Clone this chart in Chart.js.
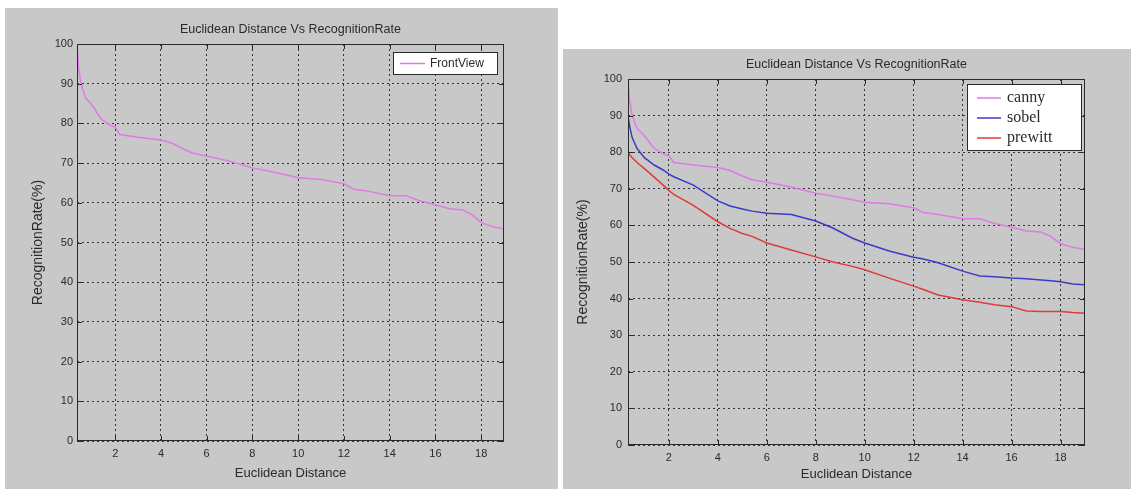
<!DOCTYPE html>
<html>
<head>
<meta charset="utf-8">
<title>Euclidean Distance Vs RecognitionRate</title>
<script src="https://cdn.jsdelivr.net/npm/chart.js@4.4.1/dist/chart.umd.min.js"></script>
<style>
    html, body { margin: 0; padding: 0; background: #ffffff; }
    body { width: 1131px; height: 489px; position: relative; overflow: hidden; }
    .panel { position: absolute; background: #c8c8c8; }
    #leftPanel { left: 5px; top: 8px; width: 553px; height: 481px; }
    #rightPanel { left: 563px; top: 49px; width: 568px; height: 440px; }
    canvas { display: block; }
</style>
</head>
<body>
<div class="panel" id="leftPanel"><canvas id="leftChart" width="553" height="481"></canvas></div>
<div class="panel" id="rightPanel"><canvas id="rightChart" width="568" height="440"></canvas></div>

<script>
// x positions (Euclidean distance) shared by every curve
const distance = [0.33, 0.4, 0.5, 0.7, 1, 1.4, 1.8, 2, 2.2, 3, 4, 4.5, 5, 5.4, 6, 7, 8, 8.7, 9.5, 10,
    11, 12, 12.4, 13, 14, 14.7, 15.3, 16, 16.6, 17.2, 17.6, 18, 18.5, 19];

// left figure
const frontView = [100, 94, 90, 86.5, 84.5, 81, 79.5, 79, 77.2, 76.5, 75.8, 75, 73.5, 72.5, 71.8, 70.5, 68.8, 68, 67, 66.3,
    65.9, 64.8, 63.5, 63, 61.8, 61.8, 60.5, 59.5, 58.5, 58.2, 57, 55, 54, 53.4];

// right figure
const canny = [100, 94, 90, 86.5, 84.5, 81, 79.5, 79, 77.2, 76.5, 75.8, 75, 73.5, 72.5, 71.8, 70.5, 68.8, 68, 67, 66.3,
    65.9, 64.8, 63.5, 63, 61.8, 61.8, 60.5, 59.5, 58.5, 58.2, 57, 55, 54, 53.4];
const sobel = [90, 87, 84, 81, 78.5, 76.5, 75, 74, 73.3, 71, 66.7, 65.3, 64.5, 63.9, 63.3, 63, 61.2, 59.3, 56.5, 55.2,
    53, 51.3, 50.8, 49.8, 47.5, 46.2, 46, 45.6, 45.4, 45.1, 44.9, 44.6, 44, 43.8];
const prewitt = [80, 79.3, 78.5, 77.2, 75.5, 73.2, 70.8, 69.5, 68.5, 65.5, 61, 59.2, 57.8, 57, 55.2, 53.3, 51.4, 50, 48.8, 47.9,
    45.6, 43.4, 42.5, 41, 39.7, 39, 38.3, 37.8, 36.6, 36.5, 36.5, 36.5, 36.2, 36];

const xTickValues = [2, 4, 6, 8, 10, 12, 14, 16, 18];
const yTickValues = [0, 10, 20, 30, 40, 50, 60, 70, 80, 90, 100];

const chartTitle = 'Euclidean Distance Vs RecognitionRate';
const xAxisTitle = 'Euclidean Distance';
const yAxisTitle = 'RecognitionRate(%)';

const SANS = '"Liberation Sans", Arial, sans-serif';
const SERIF = '"Liberation Serif", "Times New Roman", serif';
const INK = '#2a2a2a';

function toPoints(ys) {
    return distance.map((x, i) => ({ x: x, y: ys[i] }));
}

// box frame, inward tick marks, title and a legend box inside the axes
const matlabFrame = {
    id: 'matlabFrame',
    afterDraw(chart, args, opts) {
        const { ctx, chartArea: a, scales } = chart;
        ctx.save();
        ctx.strokeStyle = INK;
        ctx.lineWidth = 1;
        ctx.setLineDash([]);
        ctx.strokeRect(a.left + 0.5, a.top + 0.5, a.right - a.left - 1, a.bottom - a.top - 1);

        ctx.beginPath();
        xTickValues.forEach(v => {
            const px = Math.round(scales.x.getPixelForValue(v)) + 0.5;
            ctx.moveTo(px, a.bottom); ctx.lineTo(px, a.bottom - 5);
            ctx.moveTo(px, a.top); ctx.lineTo(px, a.top + 5);
        });
        yTickValues.forEach(v => {
            const py = Math.round(scales.y.getPixelForValue(v)) + 0.5;
            ctx.moveTo(a.left, py); ctx.lineTo(a.left + 5, py);
            ctx.moveTo(a.right, py); ctx.lineTo(a.right - 5, py);
        });
        ctx.stroke();

        // title centred over the axes
        ctx.fillStyle = INK;
        ctx.font = '12.5px ' + SANS;
        ctx.textAlign = 'center';
        ctx.textBaseline = 'middle';
        ctx.fillText(chartTitle, (a.left + a.right) / 2, a.top - 14);

        // legend box
        const lg = opts.legend;
        const bx = a.right - lg.right - lg.width;
        const by = a.top + lg.top;
        ctx.fillStyle = '#ffffff';
        ctx.fillRect(bx, by, lg.width, lg.height);
        ctx.strokeStyle = INK;
        ctx.strokeRect(bx + 0.5, by + 0.5, lg.width - 1, lg.height - 1);
        ctx.font = lg.font;
        ctx.textAlign = 'left';
        chart.data.datasets.forEach((ds, i) => {
            const ry = by + lg.firstRow + i * lg.rowGap;
            ctx.strokeStyle = ds.borderColor;
            ctx.lineWidth = 1.5;
            ctx.beginPath();
            ctx.moveTo(bx + lg.lineStart, ry);
            ctx.lineTo(bx + lg.lineStart + lg.lineLength, ry);
            ctx.stroke();
            ctx.fillStyle = INK;
            ctx.fillText(ds.label, bx + lg.textStart, ry);
        });
        ctx.restore();
    }
};

function buildOptions(cfg) {
    return {
        responsive: false,
        animation: false,
        devicePixelRatio: 1,
        layout: { padding: { left: 0, top: cfg.top, right: cfg.right, bottom: 0 } },
        plugins: {
            legend: { display: false },
            title: { display: false },
            tooltip: { enabled: false },
            matlabFrame: { legend: cfg.legend }
        },
        elements: { point: { radius: 0 }, line: { borderWidth: 1.5, tension: 0 } },
        scales: {
            x: {
                type: 'linear',
                min: 0.33,
                max: 19,
                afterBuildTicks: (scale) => { scale.ticks = xTickValues.map(v => ({ value: v })); },
                afterFit: (scale) => { scale.height = cfg.xAxisHeight; },
                grid: { color: '#333333', lineWidth: 1, drawTicks: false },
                border: { display: false, dash: [2, 3] },
                ticks: { color: INK, font: { family: SANS, size: 11 }, padding: cfg.xTickPad, maxRotation: 0 },
                title: { display: true, text: xAxisTitle, color: INK, font: { family: SANS, size: 13 },
                    padding: { top: 0, bottom: cfg.xTitlePad } }
            },
            y: {
                min: 0,
                max: 100,
                afterBuildTicks: (scale) => { scale.ticks = yTickValues.map(v => ({ value: v })); },
                afterFit: (scale) => { scale.width = cfg.yAxisWidth; },
                grid: { color: '#333333', lineWidth: 1, drawTicks: false },
                border: { display: false, dash: [2, 3] },
                ticks: { color: INK, font: { family: SANS, size: 11 }, padding: cfg.yTickPad },
                title: { display: true, text: yAxisTitle, color: INK, font: { family: SANS, size: 14 },
                    padding: { top: cfg.yTitlePad, bottom: 0 } }
            }
        }
    };
}

new Chart(document.getElementById('leftChart'), {
    type: 'line',
    data: {
        datasets: [
            { label: 'FrontView', data: toPoints(frontView), borderColor: '#e07ae6' }
        ]
    },
    options: buildOptions({
        top: 36, right: 54, xAxisHeight: 48, yAxisWidth: 72,
        xTickPad: 6, xTitlePad: 8, yTickPad: 4, yTitlePad: 25,
        legend: { width: 105, height: 23, right: 6, top: 8, firstRow: 11.5, rowGap: 20,
            lineStart: 7, lineLength: 25, textStart: 37, font: '12px ' + SANS }
    }),
    plugins: [matlabFrame]
});

new Chart(document.getElementById('rightChart'), {
    type: 'line',
    data: {
        datasets: [
            { label: 'canny', data: toPoints(canny), borderColor: '#e07ae6' },
            { label: 'sobel', data: toPoints(sobel), borderColor: '#3b3bc8' },
            { label: 'prewitt', data: toPoints(prewitt), borderColor: '#e03a3a' }
        ]
    },
    options: buildOptions({
        top: 30, right: 46, xAxisHeight: 44, yAxisWidth: 65,
        xTickPad: 6, xTitlePad: 7, yTickPad: 6, yTitlePad: 12,
        legend: { width: 115, height: 67, right: 3, top: 5, firstRow: 14, rowGap: 20,
            lineStart: 10, lineLength: 24, textStart: 40, font: '16px ' + SERIF }
    }),
    plugins: [matlabFrame]
});
</script>
</body>
</html>
